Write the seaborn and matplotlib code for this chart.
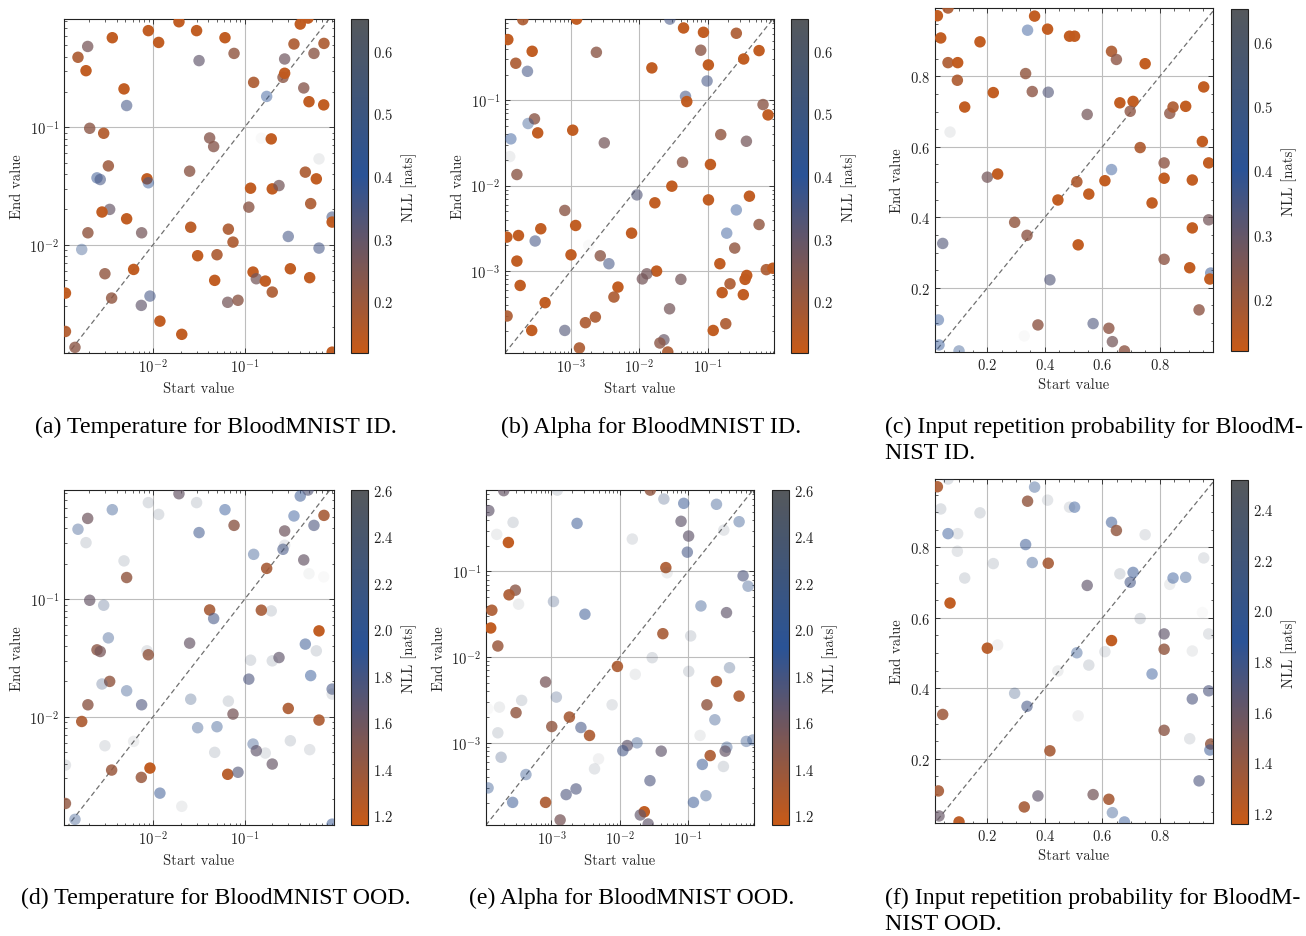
import numpy as np
import pandas as pd
import matplotlib
matplotlib.use("Agg")
import matplotlib.pyplot as plt
import seaborn as sns
from matplotlib.colors import LinearSegmentedColormap, Normalize
from matplotlib.cm import ScalarMappable
from matplotlib.ticker import AutoMinorLocator

# ---------------- data: temperature (panels a, d) ----------------
temp_start = [0.0192, 0.0299, 0.0089, 0.01153, 0.0036, 0.00194, 0.00152, 0.00186, 0.0318, 0.061,
              0.0766, 0.00483, 0.00516, 0.00204, 0.0029, 0.00326, 0.00245, 0.00266, 0.0086, 0.0089,
              0.00337, 0.00278, 0.00516, 0.00195, 0.00752, 0.00167, 0.00299, 0.00615, 0.00354, 0.00746,
              0.00927, 0.00111, 0.00111, 0.00141, 0.0119, 0.0206, 0.0251, 0.0415, 0.0459, 0.0258,
              0.0307, 0.0499, 0.0664, 0.0746, 0.0471, 0.0653, 0.0846, 0.1253, 0.1738, 0.273,
              0.262, 0.273, 0.345, 0.404, 0.491, 0.570, 0.733, 0.441, 0.503, 0.728,
              0.195, 0.647, 0.459, 0.605, 0.116, 0.2, 0.237, 0.111, 0.525, 0.9,
              0.9, 0.299, 0.647, 0.1234, 0.134, 0.168, 0.2, 0.315, 0.512, 0.9, 0.152]
temp_end = [0.79, 0.664, 0.664, 0.527, 0.578, 0.487, 0.394, 0.303, 0.369, 0.578,
            0.425, 0.212, 0.153, 0.098, 0.0889, 0.0469, 0.0371, 0.0359, 0.0364, 0.0337,
            0.0200, 0.0190, 0.01664, 0.01265, 0.01265, 0.00912, 0.00567, 0.00617, 0.00352, 0.00305,
            0.00366, 0.00388, 0.00183, 0.00134, 0.00224, 0.00173, 0.0423, 0.0811, 0.0685, 0.0141,
            0.00807, 0.00823, 0.01358, 0.01054, 0.00498, 0.00324, 0.00337, 0.241, 0.183, 0.381,
            0.266, 0.288, 0.511, 0.755, 0.849, 0.425, 0.517, 0.216, 0.165, 0.155,
            0.0796, 0.0538, 0.0415, 0.0364, 0.0303, 0.0299, 0.0319, 0.0209, 0.0224, 0.0172,
            0.0156, 0.01177, 0.00937, 0.00586, 0.00514, 0.00491, 0.00396, 0.00625, 0.00525, 0.00122, 0.0807]
temp_nll_id = [0.133, 0.133, 0.133, 0.133, 0.133, 0.261, 0.170, 0.133, 0.304, 0.133,
               0.213, 0.133, 0.357, 0.224, 0.160, 0.197, 0.384, 0.357, 0.133, 0.411,
               0.293, 0.133, 0.133, 0.213, 0.267, 0.448, 0.213, 0.133, 0.213, 0.304,
               0.357, 0.133, 0.160, 0.224, 0.133, 0.133, 0.224, 0.234, 0.234, 0.144,
               0.133, 0.170, 0.170, 0.170, 0.133, 0.267, 0.224, 0.170, 0.411, 0.277,
               0.224, 0.133, 0.170, 0.133, 0.133, 0.224, 0.170, 0.234, 0.133, 0.133,
               0.133, 0.614, 0.170, 0.133, 0.133, 0.133, 0.267, 0.224, 0.170, 0.357,
               0.133, 0.357, 0.357, 0.133, 0.267, 0.133, 0.170, 0.133, 0.133, 0.133, 0.651]
temp_nll_ood = [1.633, 2.384, 2.384, 2.384, 2.023, 1.590, 2.052, 2.384, 1.850, 1.951,
                1.446, 2.384, 1.417, 1.633, 2.196, 2.052, 1.446, 1.547, 2.427, 1.417,
                1.417, 2.196, 2.052, 1.446, 1.763, 1.301, 2.427, 2.499, 1.388, 1.388,
                1.200, 2.427, 1.417, 2.052, 1.879, 2.499, 1.633, 1.330, 1.806, 2.167,
                2.052, 2.023, 2.384, 1.547, 2.384, 1.244, 1.734, 2.023, 1.330, 1.590,
                1.806, 2.456, 1.951, 1.879, 1.734, 1.763, 1.330, 1.633, 2.557, 2.600,
                2.384, 1.200, 1.879, 2.384, 2.384, 2.384, 1.662, 1.763, 1.907, 1.806,
                2.427, 1.301, 1.301, 2.052, 1.662, 2.427, 1.633, 2.384, 2.427, 1.879, 1.330]

# ---------------- data: alpha (panels b, e) ----------------
alpha_start = [2.0e-4, 1.22e-3, 0.028, 1.21e-4, 2.74e-4, 1.58e-4, 2.34e-4, 2.37e-3, 0.01528, 0.0443,
               0.0865, 0.079, 0.261, 0.102, 0.0977, 0.0473, 0.0494, 0.56, 0.334, 0.64,
               0.757, 2.96e-4, 2.39e-4, 3.3e-4, 1.34e-4, 1.29e-4, 1.64e-4, 1.07e-3, 3.09e-3, 9.25e-3,
               0.0299, 0.0169, 0.0428, 0.1093, 0.1546, 0.366, 0.1023, 0.405, 0.261, 0.189,
               0.56, 0.247, 0.15, 0.714, 0.89, 0.37, 0.35, 0.211, 0.162, 0.33,
               0.183, 0.12, 0.0405, 0.0179, 0.0129, 0.0111, 0.0277, 0.0229, 0.02, 0.0261,
               7.73e-3, 2.7e-3, 3.61e-3, 4.89e-3, 4.27e-3, 2.29e-3, 1.64e-3, 1.34e-3, 8.2e-4, 8.2e-4,
               1.18e-3, 1.01e-3, 4.23e-4, 2.7e-4, 1.18e-4, 1.83e-4, 1.64e-4, 3.03e-4, 1.73e-4, 1.17e-4,
               3.66e-4, 1.83e-3]
alpha_end = [0.877, 0.89, 0.89, 0.513, 0.374, 0.271, 0.218, 0.364, 0.239, 0.701,
             0.624, 0.385, 0.608, 0.259, 0.168, 0.111, 0.0965, 0.381, 0.304, 0.089,
             0.0673, 0.0605, 0.0534, 0.0415, 0.0353, 0.0219, 0.0135, 0.0446, 0.0317, 7.8e-3,
             9.86e-3, 6.3e-3, 0.0188, 0.0177, 0.0396, 0.0331, 6.82e-3, 7.53e-3, 5.2e-3, 2.78e-3,
             3.51e-3, 1.86e-3, 1.22e-3, 1.04e-3, 1.08e-3, 8.9e-4, 8.0e-4, 7.1e-4, 5.6e-4, 5.3e-4,
             2.42e-4, 2.02e-4, 8.0e-4, 1.0e-3, 9.3e-4, 8.1e-4, 3.62e-4, 1.57e-4, 1.44e-4, 1.13e-4,
             2.78e-3, 1.51e-3, 1.22e-3, 6.5e-4, 4.97e-4, 2.9e-4, 2.49e-4, 1.26e-4, 2.02e-4, 5.13e-3,
             3.42e-3, 1.55e-3, 4.27e-4, 2.02e-4, 2.98e-4, 6.79e-4, 1.31e-3, 2.25e-3, 2.61e-3, 2.5e-3,
             3.13e-3, 2.0e-3]
alpha_nll_id = [0.170, 0.133, 0.357, 0.133, 0.133, 0.170, 0.357, 0.224, 0.133, 0.133,
                0.133, 0.224, 0.170, 0.133, 0.357, 0.357, 0.133, 0.133, 0.133, 0.224,
                0.133, 0.224, 0.437, 0.133, 0.411, 0.614, 0.224, 0.133, 0.267, 0.331,
                0.133, 0.133, 0.224, 0.133, 0.213, 0.267, 0.133, 0.133, 0.411, 0.411,
                0.213, 0.213, 0.133, 0.170, 0.133, 0.133, 0.133, 0.170, 0.133, 0.133,
                0.170, 0.133, 0.267, 0.133, 0.267, 0.267, 0.267, 0.293, 0.224, 0.170,
                0.133, 0.224, 0.357, 0.133, 0.170, 0.170, 0.170, 0.170, 0.331, 0.224,
                0.133, 0.133, 0.133, 0.133, 0.170, 0.133, 0.133, 0.357, 0.133, 0.133,
                0.133, 0.651]
alpha_nll_ood = [1.633, 2.384, 1.417, 1.662, 2.384, 2.499, 1.200, 1.879, 2.427, 2.196,
                 1.879, 1.662, 2.023, 1.662, 1.806, 1.301, 2.499, 2.023, 2.427, 1.763,
                 2.052, 1.446, 1.301, 2.499, 1.301, 1.200, 1.388, 2.196, 1.879, 1.301,
                 2.384, 2.499, 1.330, 2.384, 2.023, 1.662, 2.384, 2.167, 1.301, 1.417,
                 1.301, 2.052, 2.499, 2.052, 2.052, 2.052, 1.633, 1.301, 1.879, 2.384,
                 2.023, 1.879, 1.662, 2.052, 1.662, 1.806, 1.763, 1.200, 1.662, 1.662,
                 2.427, 1.806, 1.301, 2.528, 2.427, 1.763, 1.763, 1.547, 1.301, 1.547,
                 2.196, 1.417, 2.023, 1.879, 2.023, 2.196, 2.384, 1.417, 2.499, 2.600,
                 2.384, 1.330]

# ---------------- data: input repetition probability (panels c, f) ----------------
rep_start = [0.0263, 0.0633, 0.0379, 0.1745, 0.0633, 0.0969, 0.0958, 0.1213, 0.0703, 0.340,
             0.3644, 0.4096, 0.486, 0.5034, 0.3332, 0.2208, 0.3563, 0.4119, 0.5474, 0.632,
             0.649, 0.749, 0.661, 0.707, 0.697, 0.8346, 0.846, 0.890, 0.9527, 0.948,
             0.970, 0.7316, 0.815, 0.815, 0.913, 0.632, 0.609, 0.5115, 0.553, 0.4455,
             0.773, 0.2, 0.236, 0.295, 0.338, 0.516, 0.970, 0.913, 0.815, 0.904,
             0.977, 0.974, 0.4177, 0.9365, 0.0448, 0.0298, 0.032, 0.1016, 0.376, 0.568,
             0.6227, 0.635, 0.677, 0.3285]
rep_end = [0.972, 0.994, 0.909, 0.898, 0.839, 0.839, 0.789, 0.713, 0.642, 0.931,
           0.971, 0.934, 0.914, 0.914, 0.808, 0.754, 0.757, 0.755, 0.692, 0.871,
           0.848, 0.836, 0.725, 0.729, 0.701, 0.695, 0.713, 0.715, 0.770, 0.6152,
           0.5545, 0.598, 0.5545, 0.511, 0.506, 0.5356, 0.504, 0.501, 0.466, 0.4493,
           0.4408, 0.514, 0.523, 0.386, 0.349, 0.322, 0.393, 0.370, 0.281, 0.257,
           0.242, 0.225, 0.2228, 0.1375, 0.326, 0.109, 0.038, 0.021, 0.0948, 0.0986,
           0.0853, 0.0474, 0.021, 0.0635]
rep_nll_id = [0.133, 0.170, 0.133, 0.133, 0.170, 0.133, 0.170, 0.133, 0.614, 0.411,
              0.133, 0.133, 0.133, 0.133, 0.213, 0.133, 0.224, 0.331, 0.267, 0.170,
              0.224, 0.133, 0.133, 0.133, 0.224, 0.224, 0.170, 0.133, 0.133, 0.133,
              0.133, 0.170, 0.224, 0.133, 0.133, 0.411, 0.133, 0.170, 0.133, 0.133,
              0.133, 0.267, 0.133, 0.213, 0.224, 0.133, 0.267, 0.133, 0.224, 0.133,
              0.384, 0.133, 0.331, 0.224, 0.331, 0.411, 0.411, 0.437, 0.224, 0.341,
              0.224, 0.267, 0.224, 0.651]
rep_nll_ood = [1.293, 2.311, 2.311, 2.311, 1.904, 2.352, 2.352, 2.311, 1.198, 1.401,
               1.972, 2.352, 2.352, 1.904, 1.836, 2.311, 1.972, 1.320, 1.632, 1.836,
               1.401, 2.352, 2.311, 1.836, 1.768, 2.420, 1.904, 1.972, 2.352, 2.515,
               2.352, 2.311, 1.632, 1.401, 2.420, 1.198, 2.352, 1.972, 2.311, 2.420,
               1.904, 1.238, 2.447, 2.108, 1.768, 2.447, 1.727, 1.727, 1.429, 2.352,
               1.401, 1.836, 1.320, 1.727, 1.361, 1.320, 1.605, 1.225, 1.632, 1.537,
               1.320, 1.972, 1.904, 1.320]

captions = [["(a) Temperature for BloodMNIST ID."],
            ["(b) Alpha for BloodMNIST ID."],
            ["(c) Input repetition probability for BloodM-", "NIST ID."],
            ["(d) Temperature for BloodMNIST OOD."],
            ["(e) Alpha for BloodMNIST OOD."],
            ["(f) Input repetition probability for BloodM-", "NIST OOD."]]

for arrs in [(temp_start, temp_end, temp_nll_id, temp_nll_ood),
             (alpha_start, alpha_end, alpha_nll_id, alpha_nll_ood),
             (rep_start, rep_end, rep_nll_id, rep_nll_ood)]:
    assert len(set(len(a) for a in arrs)) == 1, [len(a) for a in arrs]

# ---------------- style ----------------
sns.set_style("white")
plt.rcParams.update({
    "font.family": ["cmr10", "DejaVu Serif"],
    "mathtext.fontset": "cm",
    "axes.formatter.use_mathtext": True,
    "font.size": 10.5,
    "axes.labelsize": 10.5,
    "xtick.labelsize": 10.5,
    "ytick.labelsize": 10.5,
    "axes.edgecolor": "#222222",
    "axes.linewidth": 0.8,
    "xtick.direction": "in",
    "ytick.direction": "in",
    "xtick.top": True,
    "ytick.right": True,
    "xtick.major.size": 3.5,
    "ytick.major.size": 3.5,
    "xtick.minor.size": 1.8,
    "ytick.minor.size": 1.8,
    "xtick.major.width": 0.6,
    "ytick.major.width": 0.6,
    "xtick.minor.width": 0.5,
    "ytick.minor.width": 0.5,
    "xtick.color": "#222222",
    "ytick.color": "#222222",
    "xtick.bottom": True,
    "ytick.left": True,
})

cmap = LinearSegmentedColormap.from_list(
    "nll", [(0.0, "#c85a17"), (0.53, "#2a5396"), (1.0, "#55585c")])

fig = plt.figure(figsize=(13.06, 9.37), dpi=100)

W, H = 1306.0, 937.0
def rect(l, t, r, b):
    return [l / W, 1 - b / H, (r - l) / W, (b - t) / H]

panels = [
    dict(x=temp_start, y=temp_end, c=temp_nll_id, log=True, norm=(0.117, 0.651),
         ax=rect(64, 20, 334, 354), cax=rect(351, 20, 368, 354),
         xlim=(1.07e-3, 0.943), ylim=(1.2e-3, 0.834), cticks=[0.2, 0.3, 0.4, 0.5, 0.6]),
    dict(x=alpha_start, y=alpha_end, c=alpha_nll_id, log=True, norm=(0.117, 0.651),
         ax=rect(505, 20, 774, 354), cax=rect(791, 20, 808, 354),
         xlim=(1.1e-4, 0.925), ylim=(1.1e-4, 0.893), cticks=[0.2, 0.3, 0.4, 0.5, 0.6]),
    dict(x=rep_start, y=rep_end, c=rep_nll_id, log=False, norm=(0.119, 0.651),
         ax=rect(935, 9, 1213, 353), cax=rect(1231, 10, 1248, 352),
         xlim=(0.018, 0.985), ylim=(0.018, 0.994), cticks=[0.2, 0.3, 0.4, 0.5, 0.6]),
    dict(x=temp_start, y=temp_end, c=temp_nll_ood, log=True, norm=(1.157, 2.60),
         ax=rect(64, 491, 334, 826), cax=rect(351, 491, 368, 826),
         xlim=(1.07e-3, 0.943), ylim=(1.2e-3, 0.85), cticks=[1.2, 1.4, 1.6, 1.8, 2.0, 2.2, 2.4, 2.6]),
    dict(x=alpha_start, y=alpha_end, c=alpha_nll_ood, log=True, norm=(1.157, 2.60),
         ax=rect(486, 491, 754, 826), cax=rect(772, 491, 789, 826),
         xlim=(1.1e-4, 0.925), ylim=(1.1e-4, 0.893), cticks=[1.2, 1.4, 1.6, 1.8, 2.0, 2.2, 2.4, 2.6]),
    dict(x=rep_start, y=rep_end, c=rep_nll_ood, log=False, norm=(1.157, 2.515),
         ax=rect(935, 480, 1213, 824), cax=rect(1231, 481, 1248, 825),
         xlim=(0.018, 0.985), ylim=(0.018, 0.994), cticks=[1.2, 1.4, 1.6, 1.8, 2.0, 2.2, 2.4]),
]

for p in panels:
    ax = fig.add_axes(p["ax"])
    cax = fig.add_axes(p["cax"])
    df = pd.DataFrame({"start": p["x"], "end": p["y"], "nll": p["c"]})
    norm = Normalize(*p["norm"])
    if p["log"]:
        ax.set_xscale("log")
        ax.set_yscale("log")
    ax.grid(True, which="major", color="#bdbdbd", linewidth=0.8, zorder=0)
    ax.set_axisbelow(True)
    lo = min(p["xlim"][0], p["ylim"][0]) * 0.5
    hi = max(p["xlim"][1], p["ylim"][1]) * 1.5
    ax.plot([lo, hi], [lo, hi], linestyle=(0, (4, 2.5)), color="#707070", linewidth=0.9, zorder=1)
    sns.scatterplot(data=df, x="start", y="end", hue="nll", palette=cmap, hue_norm=norm,
                    legend=False, ax=ax, s=68, linewidth=0, zorder=3)
    coll = ax.collections[-1]
    t = np.clip(norm(df["nll"].to_numpy()), 0, 1)
    rgba = cmap(t)
    rgba[:, 3] = np.clip(1 - 0.97 * t, 0.03, 1)
    coll.set_facecolors(rgba)
    coll.set_edgecolors("none")
    ax.set_xlim(*p["xlim"])
    ax.set_ylim(*p["ylim"])
    if not p["log"]:
        ax.set_xticks([0.2, 0.4, 0.6, 0.8])
        ax.set_yticks([0.2, 0.4, 0.6, 0.8])
        ax.xaxis.set_minor_locator(AutoMinorLocator(4))
        ax.yaxis.set_minor_locator(AutoMinorLocator(4))
    ax.set_xlabel("Start value")
    ax.set_ylabel("End value")
    for s in ax.spines.values():
        s.set_visible(True)

    sm = ScalarMappable(norm=norm, cmap=cmap)
    cb = fig.colorbar(sm, cax=cax)
    cb.set_ticks(p["cticks"])
    cb.ax.minorticks_on()
    cb.ax.tick_params(which="both", direction="in", right=True, left=False)
    cb.outline.set_linewidth(0.8)
    cb.set_label("NLL [nats]", labelpad=6)

# ---------------- captions ----------------
cap_kw = dict(family=["Liberation Serif", "DejaVu Serif"], fontsize=17.2, color="black", va="center")
cap_pos = [(216, 427, "center"), (651, 427, "center"), (885, 427, "left"),
           (216, 898, "center"), (632, 898, "center"), (885, 898, "left")]
for lines, (cx, cy, ha) in zip(captions, cap_pos):
    for i, line in enumerate(lines):
        fig.text(cx / W, 1 - (cy + 27 * i) / H, line, ha=ha, **cap_kw)

fig.savefig("out.png", dpi=100)
